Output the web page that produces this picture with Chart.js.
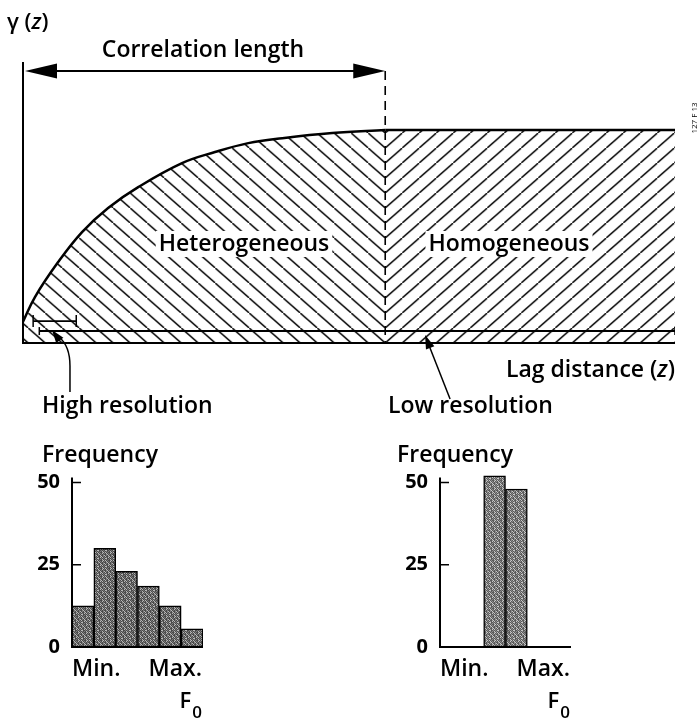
<!DOCTYPE html>
<html>
<head>
<meta charset="utf-8">
<script src="https://cdn.jsdelivr.net/npm/chart.js@4/dist/chart.umd.min.js"></script>
<style>
  html, body { margin: 0; padding: 0; background: #fff; }
  #wrap { position: relative; width: 698px; height: 720px; }
  #wrap canvas { position: absolute; left: 0; top: 0; }
</style>
</head>
<body>
<div id="wrap">
  <canvas id="vario" width="698" height="720"></canvas>
  <canvas id="histHigh" width="698" height="720"></canvas>
  <canvas id="histLow" width="698" height="720"></canvas>
</div>
<script>
// ---- Variogram: lag distance vs semivariance ----
const lagHet   = [0, 0.33, 0.97, 1.63, 2.35, 3.18, 4.39, 5.3, 6.22, 7.16, 8.54, 10];
const gammaHet = [0.10, 0.216, 0.38, 0.521, 0.634, 0.732, 0.845, 0.897, 0.939, 0.962, 0.986, 1.0];
const lagHom   = [10, 18];
const gammaHom = [1.0, 1.0];
const correlationLength = 10;
const lagMax = 18;
const gammaMax = 1.32;

// sampling supports (span along lag axis, level on gamma axis)
const highResSpan = [0.28, 1.47];
const highResLevel = 0.103;
const lowResSpan = [0.45, 18];
const lowResLevel = 0.056;

// ---- Histograms of F0 ----
const binLabels = ['1', '2', '3', '4', '5', '6'];
const freqHigh = [12.5, 30, 23, 18.5, 12.5, 5.5];
const freqLow  = [null, null, 52, 48, null, null];
const freqTicks = [0, 25, 50];
const rangeLabels = ['Min.', 'Max.'];

const FONT = '"Open Sans", "Noto Sans", sans-serif';
const LABEL_SIZE = 23;

// diagonal hatching; 'back' = "\" , 'fwd' = "/"
function makeHatch(dir) {
  const w = 17, h = 15;
  const c = document.createElement('canvas');
  c.width = w; c.height = h;
  const g = c.getContext('2d');
  g.strokeStyle = '#000';
  g.lineWidth = 1.5;
  g.beginPath();
  if (dir === 'back') { g.moveTo(-w, -h); g.lineTo(2 * w, 2 * h); }
  else { g.moveTo(-w, 2 * h); g.lineTo(2 * w, -h); }
  g.stroke();
  return g.createPattern(c, 'repeat');
}

// stippled grey fill for the histogram bars
function makeStipple(dark, mid, light) {
  const rows = [
    '#.#-##-.',
    '-#.#-#.#',
    '##-.#-#-',
    '.#-#.##-',
    '#.##-.#-',
    '-#-#.#.#',
    '#..##-#-',
    '-#-#-#.#'
  ];
  const c = document.createElement('canvas');
  c.width = 8; c.height = 8;
  const g = c.getContext('2d');
  rows.forEach((r, y) => {
    [...r].forEach((ch, x) => {
      g.fillStyle = ch === '#' ? dark : (ch === '.' ? light : mid);
      g.fillRect(x, y, 1, 1);
    });
  });
  return g.createPattern(c, 'repeat');
}

const hatchBack = makeHatch('back');
const hatchFwd = makeHatch('fwd');

function arrowHead(ctx, tx, ty, fx, fy, len, half) {
  const a = Math.atan2(ty - fy, tx - fx);
  ctx.beginPath();
  ctx.moveTo(tx, ty);
  ctx.lineTo(tx - len * Math.cos(a) + half * Math.sin(a), ty - len * Math.sin(a) - half * Math.cos(a));
  ctx.lineTo(tx - len * Math.cos(a) - half * Math.sin(a), ty - len * Math.sin(a) + half * Math.cos(a));
  ctx.closePath();
  ctx.fill();
}

function knockoutText(ctx, text, cx, baseline) {
  const w = ctx.measureText(text).width;
  ctx.fillStyle = '#fff';
  ctx.fillRect(cx - w / 2 - 3, baseline - 20, w + 6, 26);
  ctx.fillStyle = '#000';
  ctx.textAlign = 'center';
  ctx.fillText(text, cx, baseline);
}

// draws labels with an italic variable, such as "γ (z)"
function mixedText(ctx, parts, x, y, align, size, weight) {
  const fonts = parts.map(p => `${p.italic ? 'italic ' : ''}${weight} ${size}px ${FONT}`);
  const widths = parts.map((p, i) => { ctx.font = fonts[i]; return ctx.measureText(p.t).width; });
  const total = widths.reduce((a, b) => a + b, 0);
  let cx = align === 'right' ? x - total : x;
  ctx.textAlign = 'left';
  parts.forEach((p, i) => { ctx.font = fonts[i]; ctx.fillText(p.t, cx, y); cx += widths[i]; });
}

const varioDecor = {
  id: 'varioDecor',
  beforeDatasetsDraw(chart) {
    const xs = chart.scales.x, ys = chart.scales.y;
    const m = new DOMMatrix().translate(xs.getPixelForValue(correlationLength), ys.getPixelForValue(0));
    hatchBack.setTransform(m);
    hatchFwd.setTransform(m);
  },
  afterDatasetsDraw(chart) {
    const ctx = chart.ctx;
    const xs = chart.scales.x, ys = chart.scales.y;
    const ca = chart.chartArea;
    const x0 = xs.getPixelForValue(0);
    const xEnd = xs.getPixelForValue(lagMax);
    const xCL = xs.getPixelForValue(correlationLength);
    const y0 = ys.getPixelForValue(0);
    const arrowY = ca.top + 9;

    ctx.save();
    ctx.strokeStyle = '#000';
    ctx.fillStyle = '#000';
    ctx.lineCap = 'butt';

    // gamma axis and lag axis
    ctx.lineWidth = 2;
    ctx.beginPath();
    ctx.moveTo(x0, ca.top); ctx.lineTo(x0, y0 + 1);
    ctx.moveTo(x0, y0); ctx.lineTo(xEnd, y0);
    ctx.stroke();

    // dashed marker at the correlation length
    ctx.lineWidth = 1.6;
    ctx.setLineDash([9, 6]);
    ctx.beginPath();
    ctx.moveTo(xCL, arrowY); ctx.lineTo(xCL, y0);
    ctx.stroke();
    ctx.setLineDash([]);

    // double-headed arrow spanning the correlation length
    ctx.lineWidth = 2;
    ctx.beginPath();
    ctx.moveTo(x0 + 20, arrowY); ctx.lineTo(xCL - 20, arrowY);
    ctx.stroke();
    arrowHead(ctx, x0 + 2, arrowY, x0 + 40, arrowY, 32, 7.5);
    arrowHead(ctx, xCL, arrowY, xCL - 40, arrowY, 32, 7.5);

    // pointer arrows to the two supports
    const hx = xs.getPixelForValue(0.8), hy = ys.getPixelForValue(0.061);
    ctx.lineWidth = 1.5;
    ctx.beginPath();
    ctx.moveTo(hx + 18, 392);
    ctx.lineTo(hx + 18, 366);
    ctx.quadraticCurveTo(hx + 18, 346, hx + 7, 337);
    ctx.stroke();
    arrowHead(ctx, hx, hy, hx + 9, hy + 12, 13, 4.5);

    const lx = xs.getPixelForValue(11.1), ly = ys.getPixelForValue(0.038);
    ctx.beginPath();
    ctx.moveTo(lx + 25, 399);
    ctx.lineTo(lx + 3, ly + 8);
    ctx.stroke();
    arrowHead(ctx, lx, ly, lx + 25, 399, 14, 4.5);

    // text
    ctx.fillStyle = '#000';
    ctx.textBaseline = 'alphabetic';
    mixedText(ctx, [{ t: 'γ (' }, { t: 'z', italic: true }, { t: ')' }], 7, 29, 'left', 22, 600);

    ctx.font = `600 ${LABEL_SIZE}px ${FONT}`;
    ctx.textAlign = 'center';
    ctx.fillText('Correlation length', 203, 57);

    knockoutText(ctx, 'Heterogeneous', 244, 251);
    knockoutText(ctx, 'Homogeneous', 509, 251);

    mixedText(ctx, [{ t: 'Lag distance (' }, { t: 'z', italic: true }, { t: ')' }], xEnd, 377, 'right', LABEL_SIZE, 600);

    ctx.font = `600 ${LABEL_SIZE}px ${FONT}`;
    ctx.textAlign = 'left';
    ctx.fillText('High resolution', 42, 413);
    ctx.fillText('Low resolution', 388, 413);

    // figure code in the margin
    ctx.save();
    ctx.translate(694, 118);
    ctx.rotate(-Math.PI / 2);
    ctx.font = `8px ${FONT}`;
    ctx.textAlign = 'center';
    ctx.fillText('127 F 13', 0, 3);
    ctx.restore();

    ctx.restore();
  }
};

new Chart(document.getElementById('vario'), {
  type: 'line',
  data: {
    datasets: [
      {
        label: 'Heterogeneous',
        data: lagHet.map((x, i) => ({ x, y: gammaHet[i] })),
        borderColor: '#000', borderWidth: 2.5,
        backgroundColor: hatchBack, fill: 'origin',
        pointRadius: 0, tension: 0.4
      },
      {
        label: 'Homogeneous',
        data: lagHom.map((x, i) => ({ x, y: gammaHom[i] })),
        borderColor: '#000', borderWidth: 2.5,
        backgroundColor: hatchFwd, fill: 'origin',
        pointRadius: 0
      },
      {
        label: 'Low resolution',
        data: lowResSpan.map(x => ({ x, y: lowResLevel })),
        borderColor: '#000', borderWidth: 2, fill: false,
        pointStyle: 'line', rotation: 90, pointRadius: 4,
        pointBorderColor: '#000', pointBorderWidth: 1.5
      },
      {
        label: 'High resolution',
        data: highResSpan.map(x => ({ x, y: highResLevel })),
        borderColor: '#000', borderWidth: 1.8, fill: false,
        pointStyle: 'line', rotation: 90, pointRadius: 6,
        pointBorderColor: '#000', pointBorderWidth: 1.5
      }
    ]
  },
  options: {
    responsive: false,
    animation: false,
    events: [],
    layout: { padding: { left: 23, right: 23, top: 62, bottom: 377 } },
    scales: {
      x: { type: 'linear', min: 0, max: lagMax, display: false },
      y: { type: 'linear', min: 0, max: gammaMax, display: false }
    },
    plugins: { legend: { display: false }, tooltip: { enabled: false } }
  },
  plugins: [varioDecor]
});

// ---- histogram panels ----
function histDecor(titleX) {
  return {
    id: 'histDecor',
    afterDatasetsDraw(chart) {
      const ctx = chart.ctx;
      const ys = chart.scales.y;
      const ca = chart.chartArea;
      const y0 = ys.getPixelForValue(0);
      ctx.save();
      ctx.strokeStyle = '#000';
      ctx.fillStyle = '#000';
      ctx.lineWidth = 2;
      ctx.beginPath();
      ctx.moveTo(ca.left, ys.getPixelForValue(51.5));
      ctx.lineTo(ca.left, y0 + 1);
      ctx.moveTo(ca.left, y0);
      ctx.lineTo(ca.right, y0);
      ctx.stroke();
      ctx.lineWidth = 1.5;
      ctx.beginPath();
      freqTicks.filter(v => v > 0).forEach(v => {
        const y = ys.getPixelForValue(v);
        ctx.moveTo(ca.left, y); ctx.lineTo(ca.left + 9, y);
      });
      ctx.stroke();

      ctx.textBaseline = 'alphabetic';
      ctx.font = `600 ${LABEL_SIZE}px ${FONT}`;
      ctx.textAlign = 'left';
      ctx.fillText('Frequency', titleX, 462);
      ctx.fillText(rangeLabels[0], ca.left, 676);
      ctx.textAlign = 'right';
      ctx.fillText(rangeLabels[1], ca.right - 1, 676);

      // F0 with subscript
      ctx.font = `600 17px ${FONT}`;
      const subW = ctx.measureText('0').width;
      ctx.fillText('0', ca.right - 1, 718);
      ctx.font = `600 22px ${FONT}`;
      ctx.fillText('F', ca.right - subW - 2, 708);
      ctx.restore();
    }
  };
}

function histogram(id, values, left, right, titleX, fill) {
  const axisW = 50;
  return new Chart(document.getElementById(id), {
    type: 'bar',
    data: {
      labels: binLabels,
      datasets: [{
        label: 'Frequency',
        data: values,
        backgroundColor: fill,
        borderColor: '#000',
        borderWidth: 1.5,
        borderSkipped: false,
        barPercentage: 1,
        categoryPercentage: 1
      }]
    },
    options: {
      responsive: false,
      animation: false,
      events: [],
      layout: { padding: { left: left - axisW, right: 698 - right, top: 466, bottom: 720 - 647 } },
      scales: {
        x: { display: false },
        y: {
          min: 0, max: 55,
          afterFit(scale) { scale.width = axisW; },
          afterBuildTicks(scale) { scale.ticks = freqTicks.map(v => ({ value: v })); },
          grid: { display: false, drawTicks: false },
          border: { display: false },
          ticks: { padding: 12, color: '#000', font: { family: FONT, size: 20, weight: 'bold' } }
        }
      },
      plugins: { legend: { display: false }, tooltip: { enabled: false } }
    },
    plugins: [histDecor(titleX)]
  });
}

histogram('histHigh', freqHigh, 72, 203, 42, makeStipple('#4a4a4a', '#7a7a7a', '#b8b8b8'));
histogram('histLow', freqLow, 440, 571, 397, makeStipple('#5a5a5a', '#8c8c8c', '#c8c8c8'));
</script>
</body>
</html>
